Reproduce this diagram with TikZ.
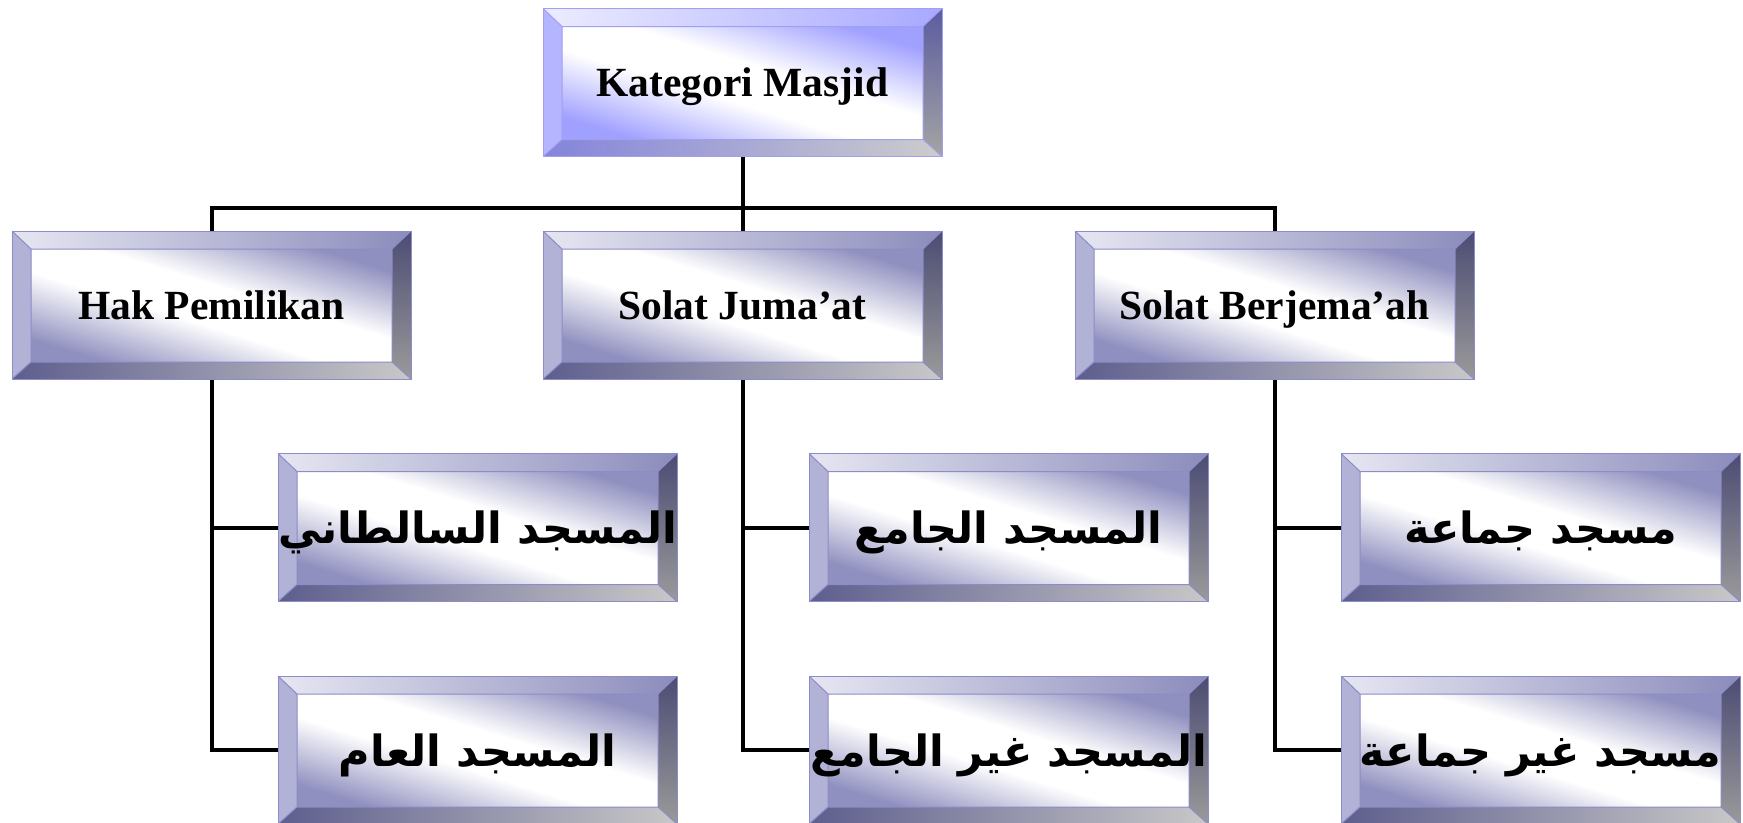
\documentclass[tikz,border=0pt]{standalone}
\usepackage{fontspec}
\setmainfont{Liberation Serif}
\newfontfamily\arabicfont[Script=Arabic]{DejaVu Sans}
\TeXXeTstate=1
\usetikzlibrary{positioning,calc,backgrounds}

% colours: B = top box (blue), U = the others (violet grey)
\definecolor{mukaB}{HTML}{A0A0FF}
\definecolor{atasAB}{HTML}{ECECFF}
\definecolor{atasBB}{HTML}{A8A8FF}
\definecolor{kiriB}{HTML}{B4B4FF}
\definecolor{kananAB}{HTML}{5C5CA0}
\definecolor{kananBB}{HTML}{A4A4A4}
\definecolor{bawahAB}{HTML}{8484DC}
\definecolor{bawahBB}{HTML}{CCCCCC}
\definecolor{garisB}{HTML}{A0A0F0}

\definecolor{mukaU}{HTML}{9090C0}
\definecolor{atasAU}{HTML}{E6E6F2}
\definecolor{atasBU}{HTML}{8C8CBC}
\definecolor{kiriU}{HTML}{B2B2D6}
\definecolor{kananAU}{HTML}{4C4C74}
\definecolor{kananBU}{HTML}{9A9A9A}
\definecolor{bawahAU}{HTML}{5E5E8E}
\definecolor{bawahBU}{HTML}{C8C8C8}
\definecolor{garisU}{HTML}{8C8CC8}

% face: colour in two corners, broad white band between
\pgfdeclareverticalshading{wajahB}{100bp}{color(0bp)=(mukaB); color(25bp)=(mukaB);
  color(44bp)=(white); color(56bp)=(white); color(75bp)=(mukaB); color(100bp)=(mukaB)}
\pgfdeclareverticalshading{wajahU}{100bp}{color(0bp)=(mukaU); color(25bp)=(mukaU);
  color(44bp)=(white); color(56bp)=(white); color(75bp)=(mukaU); color(100bp)=(mukaU)}

\newcommand{\tengah}[1]{\makebox[0pt]{#1}}

\newcommand{\bevelbox}[1]{%
  \coordinate (bl) at (path picture bounding box.south west);
  \coordinate (tr) at (path picture bounding box.north east);
  \coordinate (tl) at (path picture bounding box.north west);
  \coordinate (br) at (path picture bounding box.south east);
  \coordinate (ibl) at ($(bl)+(19pt,17pt)$);
  \coordinate (itr) at ($(tr)+(-19pt,-18pt)$);
  \coordinate (itl) at ($(tl)+(19pt,-18pt)$);
  \coordinate (ibr) at ($(br)+(-19pt,17pt)$);
  \shade[shading=wajah#1, shading angle=-17] (ibl) rectangle (itr);
  \shade[left color=atasA#1, right color=atasB#1] (tl) -- (tr) -- (itr) -- (itl) -- cycle;
  \fill[kiri#1] (tl) -- (itl) -- (ibl) -- (bl) -- cycle;
  \shade[top color=kananA#1, bottom color=kananB#1] (tr) -- (br) -- (ibr) -- (itr) -- cycle;
  \shade[left color=bawahA#1, right color=bawahB#1] (bl) -- (ibl) -- (ibr) -- (br) -- cycle;
  \draw[garis#1, line width=1pt] (ibl) rectangle (itr)
    (tl) -- (itl) (tr) -- (itr) (bl) -- (ibl) (br) -- (ibr);
}

\begin{document}
\begin{tikzpicture}[x=1pt, y=1pt, node distance=222.5pt]
\tikzstyle{kotak}=[rectangle, minimum width=399pt, minimum height=148pt, inner sep=0pt,
  draw=garisU, line width=1pt, path picture={\bevelbox{U}}]
\tikzstyle{judul}=[kotak, draw=garisB, path picture={\bevelbox{B}}]
\tikzstyle{latin}=[font=\bfseries\fontsize{41.5}{46}\selectfont, text height=28pt, text depth=0pt]
\tikzstyle{arab}=[font=\arabicfont\bfseries\fontsize{43}{48}\selectfont, text height=32pt, text depth=0pt]
\tikzstyle{garis}=[line width=4pt, black]
\useasboundingbox (0,0) rectangle (1743,-822);

\node[judul, latin] (kat) at (742.5,-82.5) {\tengah{Kategori Masjid}};
\node[kotak, latin] (jum) [below of=kat] {\tengah{Solat Juma’at}};
\node[kotak, latin] (hak) [left of=jum, node distance=531pt] {\tengah{Hak Pemilikan}};
\node[kotak, latin] (ber) [right of=jum, node distance=532pt] {\tengah{Solat Berjema’ah}};

\node[kotak, arab] (sul) [below of=hak, xshift=266pt] {\tengah{\beginR المسجد السالطاني\endR}};
\node[kotak, arab] (umum) [below of=sul] {\tengah{\beginR المسجد العام\endR}};
\node[kotak, arab] (jam) [below of=jum, xshift=266pt] {\tengah{\beginR المسجد الجامع\endR}};
\node[kotak, arab] (gjam) [below of=jam] {\tengah{\beginR المسجد غير الجامع\endR}};
\node[kotak, arab] (jmh) [below of=ber, xshift=266pt] {\tengah{\beginR مسجد جماعة\endR}};
\node[kotak, arab] (gjmh) [below of=jmh] {\tengah{\beginR مسجد غير جماعة\endR}};

\coordinate[below of=kat, node distance=125.5pt] (cab);

\begin{scope}[on background layer]
\draw[garis] (kat) -- (jum);
\draw[garis] (hak) |- (cab) -| (ber);
\draw[garis] (hak) |- (sul);
\draw[garis] (hak) |- (umum);
\draw[garis] (jum) |- (jam);
\draw[garis] (jum) |- (gjam);
\draw[garis] (ber) |- (jmh);
\draw[garis] (ber) |- (gjmh);
\end{scope}
\end{tikzpicture}
\end{document}
